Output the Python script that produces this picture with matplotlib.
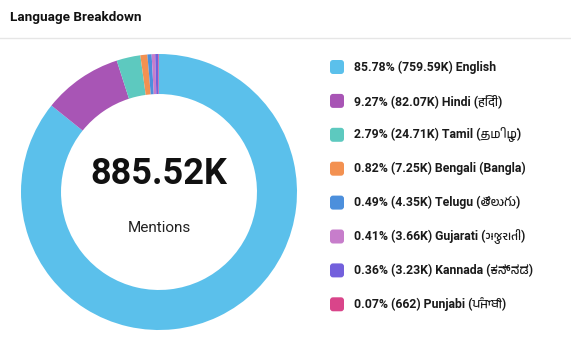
import matplotlib
matplotlib.use('Agg')
import matplotlib.pyplot as plt
from matplotlib import font_manager
from matplotlib.patches import FancyBboxPatch

# Data
languages = ['English', 'Hindi (हिंदी)', 'Tamil (தமிழ்)', 'Bengali (Bangla)',
             'Telugu (తెలుగు)', 'Gujarati (ગુજરાતી)', 'Kannada (ಕನ್ನಡ)', 'Punjabi (ਪੰਜਾਬੀ)']
mentions = [759590, 82070, 24710, 7250, 4350, 3660, 3230, 662]
colors = ['#5BC0EB', '#A855B5', '#5DC9BF', '#F39151', '#4C8FDC', '#C77DCB', '#7360DC', '#D9458A']

# pick up any installed Indic fonts as fallbacks
names = {f.name for f in font_manager.fontManager.ttflist}
scripts = ['Devanagari', 'Tamil', 'Bengali', 'Telugu', 'Gujarati', 'Kannada', 'Gurmukhi']
indic = sorted(n for n in names if any(s in n for s in scripts))
families = ['Roboto'] + indic + ['DejaVu Sans']
plt.rcParams['font.family'] = families


def fmt_k(v):
    if v >= 1000:
        return f"{v / 1000:.2f}K"
    return str(v)


total = sum(mentions)

W, H = 571, 348
fig = plt.figure(figsize=(W / 100, H / 100), dpi=100)

# donut
cx, cy, r = 159, 192, 138
ax = fig.add_axes([(cx - r) / W, (H - cy - r) / H, 2 * r / W, 2 * r / H])
ax.pie(mentions, colors=colors, startangle=90, counterclock=False,
       wedgeprops=dict(width=0.29, edgecolor='none'))
ax.set_xlim(-1, 1)
ax.set_ylim(-1, 1)
ax.set_aspect('equal')
ax.text(0, 0.13, fmt_k(total), ha='center', va='center', fontsize=26,
        fontweight='bold', color='#111111')
ax.text(0, -0.26, 'Mentions', ha='center', va='center', fontsize=11, color='#222222')

# overlay in pixel coords for title + legend
ov = fig.add_axes([0, 0, 1, 1], zorder=-1)
ov.set_xlim(0, W)
ov.set_ylim(H, 0)
ov.axis('off')
ov.text(10, 18, 'Language Breakdown', fontsize=9.7, fontweight='bold',
        va='center', ha='left', color='#111111')
ov.plot([0, W], [38, 38], color='#e6e6e6', lw=1)

row_y = 67
for lang, val, col in zip(languages, mentions, colors):
    ov.add_patch(FancyBboxPatch((330, row_y - 7), 14, 14,
                                boxstyle='round,pad=0,rounding_size=3',
                                facecolor=col, edgecolor='none'))
    label = f"{val / total * 100:.2f}% ({fmt_k(val)}) {lang}"
    ov.text(354, row_y, label, fontsize=8.8, fontweight='bold', va='center',
            ha='left', color='#1a1a1a')
    row_y += 33.9

fig.savefig('out.png', dpi=100, facecolor='white')
